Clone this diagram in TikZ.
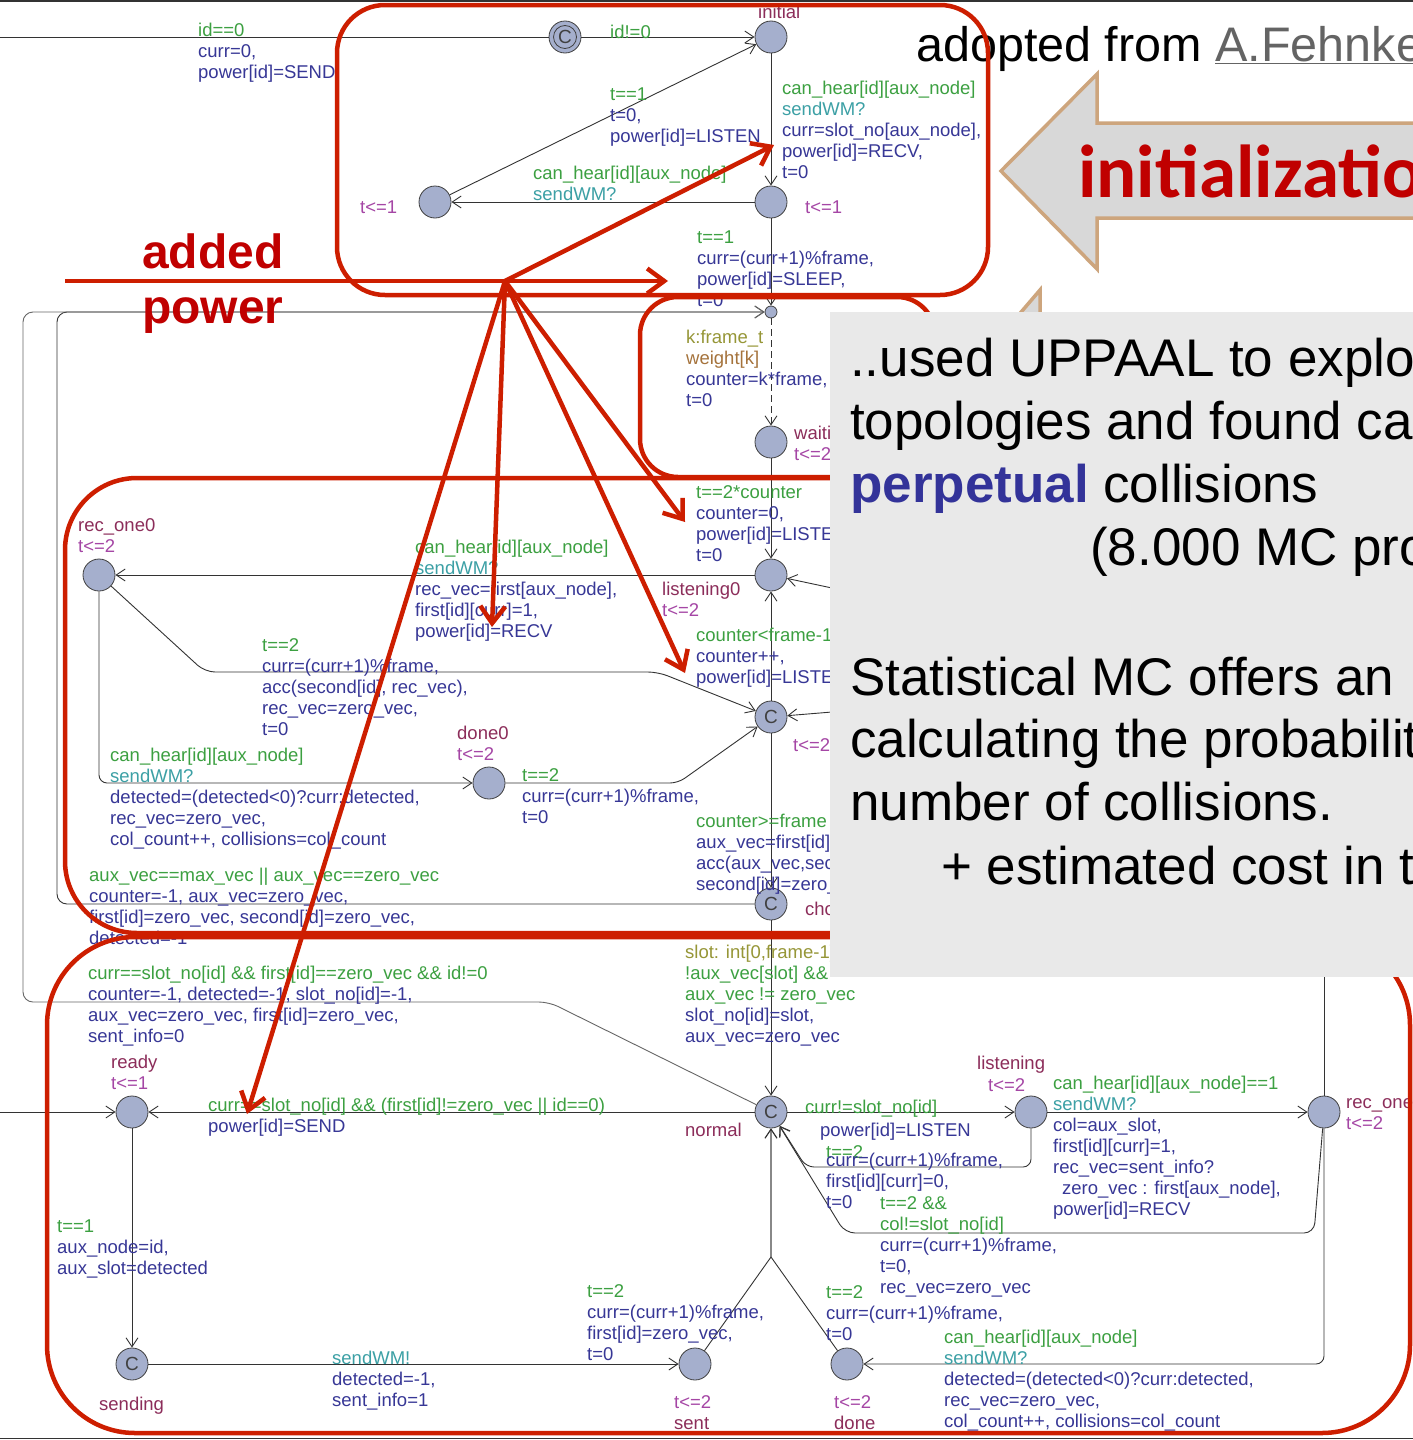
\documentclass[tikz,border=0pt]{standalone}
\usepackage{fontspec}
\setmainfont{Liberation Sans}
\newfontfamily\humfont{Carlito}
\usetikzlibrary{arrows.meta}

\definecolor{grd}{RGB}{60,160,65}
\definecolor{syn}{RGB}{60,160,165}
\definecolor{upd}{RGB}{55,55,150}
\definecolor{inv}{RGB}{165,70,165}
\definecolor{nam}{RGB}{140,45,90}
\definecolor{sel}{RGB}{150,150,55}
\definecolor{wgt}{RGB}{165,115,60}
\definecolor{locfill}{RGB}{165,175,205}
\definecolor{redc}{RGB}{205,30,0}
\definecolor{txtred}{RGB}{192,0,0}
\definecolor{tanc}{RGB}{205,165,125}
\definecolor{arrgray}{RGB}{216,216,216}
\definecolor{boxgray}{RGB}{233,233,233}
\definecolor{perp}{RGB}{51,51,153}
\definecolor{linkgray}{RGB}{100,100,100}

% label parts of UPPAAL edges and locations
\newcommand\lgd[1]{\textcolor{grd}{#1}}
\newcommand\lsy[1]{\textcolor{syn}{#1}}
\newcommand\lup[1]{\textcolor{upd}{#1}}
\newcommand\liv[1]{\textcolor{inv}{#1}}
\newcommand\lnm[1]{\textcolor{nam}{#1}}
\newcommand\lsl[1]{\textcolor{sel}{#1}}
\newcommand\lwt[1]{\textcolor{wgt}{#1}}

\begin{document}
\begin{tikzpicture}[x=1pt, y=-1pt,
  loc/.style={circle, draw=black!75, fill=locfill, line width=0.8pt, minimum size=32pt, inner sep=0pt},
  cloc/.style={loc, font=\fontsize{19}{19}\selectfont, text=black!75},
  bpoint/.style={circle, draw=black!75, fill=locfill, line width=0.8pt, minimum size=12pt, inner sep=0pt},
  trans/.style={draw=black!80, line width=0.9pt, -{Straight Barb[length=9pt,width=12pt]}},
  tline/.style={draw=black!80, line width=0.9pt},
  lab/.style={anchor=north west, inner sep=0pt, align=left, yshift=12pt,
              font=\fontsize{18.5}{21}\selectfont, execute at begin node=\rule{0pt}{15pt}},
  redbox/.style={draw=redc, line width=4.5pt},
  redarr/.style={draw=redc, line width=4.5pt, -{Straight Barb[length=17pt,width=25pt]}},
  slide/.style={anchor=base west, inner sep=0pt, font=\fontsize{53}{63}\selectfont},
  redword/.style={anchor=base west, inner sep=0pt, text=txtred, font=\bfseries\fontsize{48}{55}\selectfont},
  tanarrow/.style={draw=tanc, line width=3.5pt, fill=arrgray, line join=miter},
]
\useasboundingbox (0,0) rectangle (1413,1440);
\clip (0,0) rectangle (1413,1440);
\fill[white] (0,0) rectangle (1413,1440);

% ---------------- locations ----------------
\node[cloc] (cinit) at (565,37) {C};
\draw[black!75, line width=0.8pt] (cinit.center) circle (11.5pt);
\node[loc] (initial) at (771,37) {};
\node[loc] (nL) at (435,202) {};
\node[loc] (nR) at (771,202) {};
\node[bpoint] (bp) at (771,312) {};
\node[loc] (waiting) at (771,442) {};
\node[loc] (lis0) at (771,575) {};
\node[cloc] (c1) at (771,717) {C};
\node[cloc] (choice) at (771,904) {C};
\node[loc] (rec0) at (99,575) {};
\node[loc] (done0) at (489,783) {};
\node[loc] (ready) at (132,1112) {};
\node[cloc] (normal) at (771,1112) {C};
\node[loc] (listening) at (1031,1112) {};
\node[loc] (recone) at (1324,1112) {};
\node[cloc] (sending) at (132,1364) {C};
\node[loc] (sent) at (695,1364) {};
\node[loc] (done) at (847,1364) {};

% free ends of edges leaving the visible area
\coordinate (westTop) at (0,37);
\coordinate (westReady) at (0,1112);
\coordinate (inLis0) at (832,588);
\coordinate (inC1) at (832,712);
\coordinate (upRecOne) at (1324,960);
\coordinate (joinLow) at (771,1257);

% ---------------- transitions ----------------
\draw[tline] (cinit) -- (westTop);
\draw[trans] (westReady) -- (ready);
\draw[trans] (cinit) -- (initial);
\draw[trans] (initial) -- (nR);
\draw[trans] (nR) -- (nL);
\draw[trans] (nL) -- (initial);
\draw[trans] (nR) -- (bp);
\draw[trans, dash pattern=on 7pt off 4pt] (bp) -- (waiting);
\draw[trans] (waiting) -- (lis0);
\draw[trans] (lis0) -- (rec0);
\draw[trans] (c1) -- (lis0);
\draw[trans] (inLis0) -- (lis0);
\draw[trans] (inC1) -- (c1);
\draw[trans, rounded corners=10pt] (rec0) -- (205,672) -- (658,672) -- (c1);
\draw[trans, rounded corners=8pt] (rec0) -- (99,783) -- (done0);
\draw[trans, rounded corners=8pt] (done0) -- (678,783) -- (c1);
\draw[trans] (c1) -- (choice);
\draw[trans, rounded corners=10pt] (choice) -- (57,904) -- (57,312) -- (bp);
\draw[trans, draw=black!60, rounded corners=10pt] (normal) -- (549,1002) -- (23,1002) -- (23,312) -- (bp);
\draw[trans] (choice) -- (normal);
\draw[trans] (normal) -- (ready);
\draw[trans] (normal) -- (listening);
\draw[trans, rounded corners=8pt] (listening) -- (1031,1167) -- (806,1167) -- (normal);
\draw[trans] (listening) -- (recone);
\draw[trans, rounded corners=10pt] (recone) -- (1314,1233) -- (845,1233) -- (normal);
\draw[trans, rounded corners=8pt] (recone) -- (1324,1364) -- (done);
\draw[tline] (upRecOne) -- (recone);
\draw[trans] (ready) -- (sending);
\draw[trans] (sending) -- (sent);
\draw[trans] (sent) -- (joinLow) -- (normal);
\draw[trans] (done) -- (joinLow) -- (normal);

% ---------------- labels ----------------
\node[lab] (tA) at (198,35) {\lgd{id==0}\\\lup{curr=0,}\\\lup{power[id]=SEND}};
\node[lab] (tB) at (610,35) {\lgd{id!=0}};
\node[lab] (tC) at (758,15) {\lnm{initial}};
\node[lab] (tD) at (610,100) {\lgd{t==1}\\\lup{t=0,}\\\lup{power[id]=LISTEN}};
\node[lab] (tE) at (782,93) {\lgd{can\_hear[id][aux\_node]}\\\lsy{sendWM?}\\\lup{curr=slot\_no[aux\_node],}\\\lup{power[id]=RECV,}\\\lup{t=0}};
\node[lab] (tF) at (360,210) {\liv{t<=1}};
\node[lab] (tG) at (805,210) {\liv{t<=1}};
\node[lab] (tH) at (533,178) {\lgd{can\_hear[id][aux\_node]}\\\lsy{sendWM?}};
\node[lab] (tI) at (697,243) {\lgd{t==1}\\\lup{curr=(curr+1)\%frame,}\\\lup{power[id]=SLEEP,}\\\lup{t=0}};
\node[lab] (tJ) at (686,342) {\lsl{k:frame\_t}\\\lwt{weight[k]}\\\lup{counter=k*frame,}\\\lup{t=0}};
\node[lab] (tK) at (794,438) {\lnm{waiting}\\\liv{t<=2}};
\node[lab] (tL) at (696,497) {\lgd{t==2*counter}\\\lup{counter=0,}\\\lup{power[id]=LISTEN,}\\\lup{t=0}};
\node[lab] (tM) at (415,552) {\lgd{can\_hear[id][aux\_node]}\\\lsy{sendWM?}\\\lup{rec\_vec=first[aux\_node],}\\\lup{first[id][curr]=1,}\\\lup{power[id]=RECV}};
\node[lab] (tN) at (662,594) {\lnm{listening0}\\\liv{t<=2}};
\node[lab] (tO) at (78,530) {\lnm{rec\_one0}\\\liv{t<=2}};
\node[lab] (tP) at (696,640) {\lgd{counter<frame-1}\\\lup{counter++,}\\\lup{power[id]=LISTEN}};
\node[lab] (tQ) at (262,650) {\lgd{t==2}\\\lup{curr=(curr+1)\%frame,}\\\lup{acc(second[id], rec\_vec),}\\\lup{rec\_vec=zero\_vec,}\\\lup{t=0}};
\node[lab] (tR) at (457,738) {\lnm{done0}\\\liv{t<=2}};
\node[lab] (tS) at (110,760) {\lgd{can\_hear[id][aux\_node]}\\\lsy{sendWM?}\\\lup{detected=(detected<0)?curr:detected,}\\\lup{rec\_vec=zero\_vec,}\\\lup{col\_count++, collisions=col\_count}};
\node[lab] (tT) at (522,780) {\lgd{t==2}\\\lup{curr=(curr+1)\%frame,}\\\lup{t=0}};
\node[lab] (tU) at (793,748) {\liv{t<=2}};
\node[lab] (tV) at (696,826) {\lgd{counter>=frame}\\\lup{aux\_vec=first[id],}\\\lup{acc(aux\_vec,second[id]),}\\\lup{second[id]=zero\_vec}};
\node[lab] (tW) at (805,912) {\lnm{choice}};
\node[lab] (tX) at (89,880) {\lgd{aux\_vec==max\_vec || aux\_vec==zero\_vec}\\\lup{counter=-1, aux\_vec=zero\_vec,}\\\lup{first[id]=zero\_vec, second[id]=zero\_vec,}\\\lup{detected=-1}};
\node[lab] (tY) at (88,978) {\lgd{curr==slot\_no[id] \&\& first[id]==zero\_vec \&\& id!=0}\\\lup{counter=-1, detected=-1, slot\_no[id]=-1,}\\\lup{aux\_vec=zero\_vec, first[id]=zero\_vec,}\\\lup{sent\_info=0}};
\node[lab] (tZ) at (685,957) {\lsl{slot: int[0,frame-1]}\\\lgd{!aux\_vec[slot] \&\&}\\\lgd{aux\_vec != zero\_vec}\\\lup{slot\_no[id]=slot,}\\\lup{aux\_vec=zero\_vec}};
\node[lab] (uA) at (111,1067) {\lnm{ready}\\\liv{t<=1}};
\node[lab] (uB) at (208,1110) {\lgd{curr==slot\_no[id] \&\& (first[id]!=zero\_vec || id==0)}\\\lup{power[id]=SEND}};
\node[lab] (uC) at (685,1133) {\lnm{normal}};
\node[lab] (uD) at (805,1110) {\lgd{curr!=slot\_no[id]}};
\node[lab] (uE) at (820,1133) {\lup{power[id]=LISTEN}};
\node[lab] (uF) at (977,1066) {\lnm{listening}};
\node[lab] (uG) at (988,1088) {\liv{t<=2}};
\node[lab] (uH) at (826,1155) {\lgd{t==2}};
\node[lab] (uI) at (826,1165) {\lup{curr=(curr+1)\%frame,}\\\lup{first[id][curr]=0,}\\\lup{t=0}};
\node[lab] (uJ) at (1053,1088) {\lgd{can\_hear[id][aux\_node]==1}\\\lsy{sendWM?}\\\lup{col=aux\_slot,}\\\lup{first[id][curr]=1,}\\\lup{rec\_vec=sent\_info?}\\\lup{\hspace{9pt}zero\_vec : first[aux\_node],}\\\lup{power[id]=RECV}};
\node[lab] (uK) at (1346,1110) {\lnm{rec\_one}\\\liv{t<=2}};
\node[lab] (uL) at (880,1208) {\lgd{t==2 \&\&}\\\lgd{col!=slot\_no[id]}\\\lup{curr=(curr+1)\%frame,}\\\lup{t=0,}\\\lup{rec\_vec=zero\_vec}};
\node[lab] (uM) at (826,1297) {\lgd{t==2}\\\lup{curr=(curr+1)\%frame,}\\\lup{t=0}};
\node[lab] (uN) at (944,1342) {\lgd{can\_hear[id][aux\_node]}\\\lsy{sendWM?}\\\lup{detected=(detected<0)?curr:detected,}\\\lup{rec\_vec=zero\_vec,}\\\lup{col\_count++, collisions=col\_count}};
\node[lab] (uO) at (57,1232) {\lgd{t==1}\\\lup{aux\_node=id,}\\\lup{aux\_slot=detected}};
\node[lab] (uP) at (99,1407) {\lnm{sending}};
\node[lab] (uQ) at (332,1363) {\lsy{sendWM!}\\\lup{detected=-1,}\\\lup{sent\_info=1}};
\node[lab] (uR) at (587,1296) {\lgd{t==2}\\\lup{curr=(curr+1)\%frame,}\\\lup{first[id]=zero\_vec,}\\\lup{t=0}};
\node[lab] (uS) at (674,1407) {\liv{t<=2}\\\lnm{sent}};
\node[lab] (uT) at (834,1407) {\liv{t<=2}\\\lnm{done}};

% ---------------- credit line ----------------
\node[anchor=base west, inner sep=0pt, font=\fontsize{48.5}{56}\selectfont] (credit) at (916,61)
  {adopted from \textcolor{linkgray}{\underline{A.Fehnker}}};

% ---------------- highlighted regions ----------------
\draw[redbox, rounded corners=48pt] (337,5) rectangle (988,295);
\draw[redbox, rounded corners=38pt] (640,297) rectangle (935,477);
\draw[redbox, rounded corners=72pt] (65,478) rectangle (1000,933);
\draw[redbox, rounded corners=88pt] (47,937) rectangle (1410,1433);

% ---------------- power annotations ----------------
\coordinate (rS) at (65,281);
\coordinate (rO) at (505,281);
\coordinate (rH) at (668,281);
\coordinate (rT1) at (774,145);
\coordinate (rT2) at (492,627);
\coordinate (rT3) at (685,522);
\coordinate (rT4) at (685,673);
\coordinate (rT5) at (247,1114);
\draw[redarr] (rS) -- (rH);
\draw[redarr] (rO) -- (rT1);
\draw[redarr] (rO) -- (rT2);
\draw[redarr] (rO) -- (rT3);
\draw[redarr] (rO) -- (rT4);
\draw[redarr] (rO) -- (rT5);
\node[redword] (added) at (142,268) {added};
\node[redword] (power) at (142,323) {power};

% ---------------- block arrows ----------------
\draw[tanarrow] (1001,171) -- (1097,74) -- (1097,123) -- (1440,123) -- (1440,218)
  -- (1097,218) -- (1097,269) -- cycle;
\node[anchor=base west, inner sep=0pt, text=txtred, font=\humfont\bfseries\fontsize{75}{80}\selectfont]
  (initword) at (1078,197) {initialization};
\draw[tanarrow] (1016,318) -- (1040,290) -- (1040,318);

% ---------------- text panel ----------------
\fill[boxgray] (830,312) rectangle (1413,977);
\node[slide] (s1) at (850,376) {..used UPPAAL to explore};
\node[slide] (s2) at (850,439) {topologies and found cases};
\node[slide] (s3) at (850,502) {\textcolor{perp}{\bfseries perpetual} collisions};
\node[slide] (s4) at (1090,565) {(8.000 MC problems)};
\node[slide] (s5) at (850,695) {Statistical MC offers an};
\node[slide] (s6) at (850,757) {calculating the probability};
\node[slide] (s7) at (850,820) {number of collisions.};
\node[slide] (s8) at (941,884) {+ estimated cost in time};

% ---------------- frame lines ----------------
\draw[black!80, line width=1.5pt] (0,1) -- (1413,1);
\draw[black!80, line width=1.5pt] (0,1438.5) -- (1413,1438.5);
\end{tikzpicture}
\end{document}
